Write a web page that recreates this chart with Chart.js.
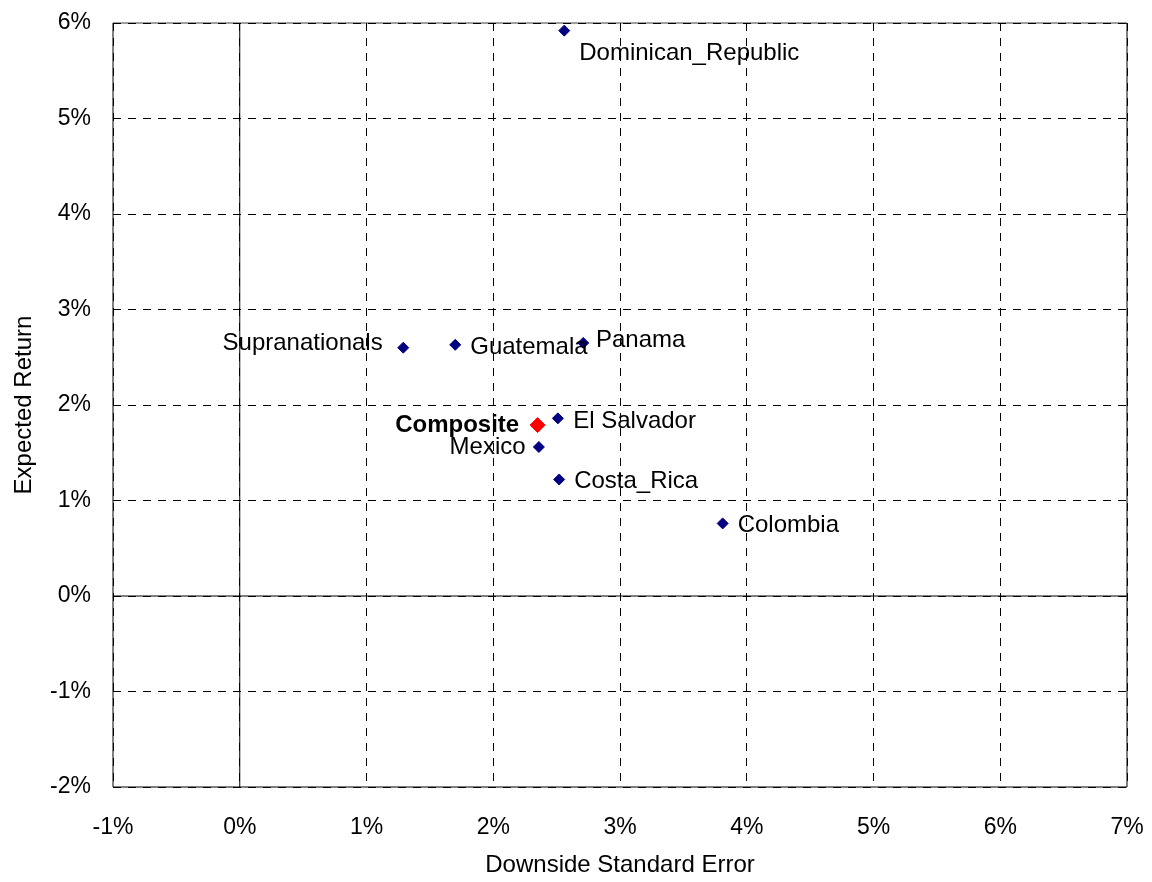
<!DOCTYPE html>
<html>
<head>
<meta charset="utf-8">
<script src="https://cdn.jsdelivr.net/npm/chart.js@4/dist/chart.umd.min.js"></script>
<style>
  html, body { margin: 0; padding: 0; background: #fff; }
  #wrap { width: 1152px; height: 882px; }
</style>
</head>
<body>
<div id="wrap"><canvas id="c"></canvas></div>
<script>
// Country risk/return figures, in percent
const countries = ['Dominican_Republic', 'Supranationals', 'Guatemala', 'Panama', 'El Salvador', 'Mexico', 'Costa_Rica', 'Colombia'];
const downsideStdError = [2.56, 1.29, 1.70, 2.71, 2.51, 2.36, 2.52, 3.81];
const expectedReturn = [5.92, 2.60, 2.63, 2.65, 1.86, 1.56, 1.22, 0.76];

// Aggregate portfolio
const compositeName = ['Composite'];
const compositeDownside = [2.35];
const compositeReturn = [1.79];

// Axis ticks, in percent
const xTickValues = [-1, 0, 1, 2, 3, 4, 5, 6, 7];
const yTickValues = [-2, -1, 0, 1, 2, 3, 4, 5, 6];

// Where each name sits relative to its marker: [dx, dy, textAlign]
const labelPlacement = {
  'Dominican_Republic': [15, 20.5, 'left'],
  'Supranationals': [-20.6, -6, 'right'],
  'Guatemala': [15, 1, 'left'],
  'Panama': [12.7, -5, 'left'],
  'El Salvador': [15.3, 1, 'left'],
  'Mexico': [-13.3, -1.7, 'right'],
  'Costa_Rica': [15, 0, 'left'],
  'Colombia': [15, 0, 'left'],
  'Composite': [-18.4, -2, 'right']
};

const FONT = '"Liberation Sans", Arial, Helvetica, sans-serif';

const countryPoints = countries.map((n, i) => ({ x: downsideStdError[i], y: expectedReturn[i], name: n }));
const compositePoints = compositeName.map((n, i) => ({ x: compositeDownside[i], y: compositeReturn[i], name: n }));

// The plot frame is fixed by layout.padding alone, so drop the scales' label overhang
function fixScaleSize(s, key, size) {
  s[key] = size;
  s.paddingTop = 0; s.paddingBottom = 0; s.paddingLeft = 0; s.paddingRight = 0;
}

// Plot frame: grey top edge sits under the dashed gridline
const frameUnder = {
  id: 'frameUnder',
  beforeDatasetsDraw(chart) {
    const { ctx, chartArea: a } = chart;
    ctx.save();
    ctx.lineWidth = 1;
    ctx.strokeStyle = '#000';
    ctx.beginPath();
    ctx.moveTo(a.left, a.top); ctx.lineTo(a.left, a.bottom);
    ctx.lineTo(a.right, a.bottom); ctx.lineTo(a.right, a.top);
    ctx.stroke();
    // solid zero lines
    const xs = chart.scales.x, ys = chart.scales.y;
    const x0 = xs.getPixelForValue(0), y0 = ys.getPixelForValue(0);
    ctx.beginPath();
    ctx.moveTo(x0, a.top); ctx.lineTo(x0, a.bottom);
    ctx.moveTo(a.left, y0); ctx.lineTo(a.right, y0);
    ctx.stroke();
    ctx.restore();
  },
  beforeDraw(chart) {
    const { ctx, chartArea: a } = chart;
    if (!a) return;
    ctx.save();
    ctx.strokeStyle = '#808080';
    ctx.lineWidth = 1.5;
    ctx.beginPath();
    ctx.moveTo(a.left, a.top); ctx.lineTo(a.right, a.top);
    ctx.stroke();
    ctx.restore();
  }
};

// Point names next to the markers
const pointNames = {
  id: 'pointNames',
  afterDatasetsDraw(chart) {
    const ctx = chart.ctx;
    ctx.save();
    ctx.fillStyle = '#000';
    ctx.textBaseline = 'alphabetic';
    chart.data.datasets.forEach((ds, di) => {
      const meta = chart.getDatasetMeta(di);
      const bold = ds.label === 'Composite';
      ctx.font = (bold ? 'bold ' : '') + '24px ' + FONT;
      meta.data.forEach((el, i) => {
        const name = ds.data[i].name;
        const p = labelPlacement[name] || [12, 0, 'left'];
        ctx.textAlign = p[2];
        // place by cap-height centre
        ctx.fillText(name, el.x + p[0], el.y + p[1] + 8.6);
      });
    });
    ctx.restore();
  }
};

new Chart(document.getElementById('c'), {
  type: 'scatter',
  data: {
    datasets: [
      {
        label: 'Countries',
        data: countryPoints,
        pointStyle: 'rectRot',
        pointRadius: 5.5,
        backgroundColor: '#000080',
        borderColor: '#000080',
        borderWidth: 1
      },
      {
        label: 'Composite',
        data: compositePoints,
        pointStyle: 'rectRot',
        pointRadius: 7.5,
        backgroundColor: '#ff0000',
        borderColor: '#ff0000',
        borderWidth: 1
      }
    ]
  },
  options: {
    responsive: true,
    maintainAspectRatio: false,
    animation: false,
    events: [],
    layout: { padding: { left: 0, top: 23, right: 25, bottom: 0 } },
    plugins: { legend: { display: false }, tooltip: { enabled: false } },
    scales: {
      x: {
        type: 'linear',
        min: -1, max: 7,
        afterBuildTicks(s) { s.ticks = xTickValues.map(v => ({ value: v })); },
        afterFit(s) { fixScaleSize(s, 'height', 95); },
        border: { display: false, dash: [8, 7] },
        grid: { color: '#000', lineWidth: 1, drawTicks: false },
        ticks: {
          padding: 27,
          color: '#000',
          font: { family: FONT, size: 23 },
          maxRotation: 0,
          callback: v => v + '%'
        },
        title: {
          display: true,
          text: 'Downside Standard Error',
          color: '#000',
          font: { family: FONT, size: 24 },
          padding: { top: 0, bottom: 2 }
        }
      },
      y: {
        type: 'linear',
        min: -2, max: 6,
        afterBuildTicks(s) { s.ticks = yTickValues.map(v => ({ value: v })); },
        afterFit(s) { fixScaleSize(s, 'width', 113); },
        border: { display: false, dash: [8, 7] },
        grid: { color: '#000', lineWidth: 1, drawTicks: false },
        ticks: {
          padding: 22,
          color: '#000',
          font: { family: FONT, size: 23 },
          callback: v => v + '%'
        },
        title: {
          display: true,
          text: 'Expected Return',
          color: '#000',
          font: { family: FONT, size: 24 },
          padding: { top: 10, bottom: 0 }
        }
      }
    }
  },
  plugins: [frameUnder, pointNames]
});
</script>
</body>
</html>
